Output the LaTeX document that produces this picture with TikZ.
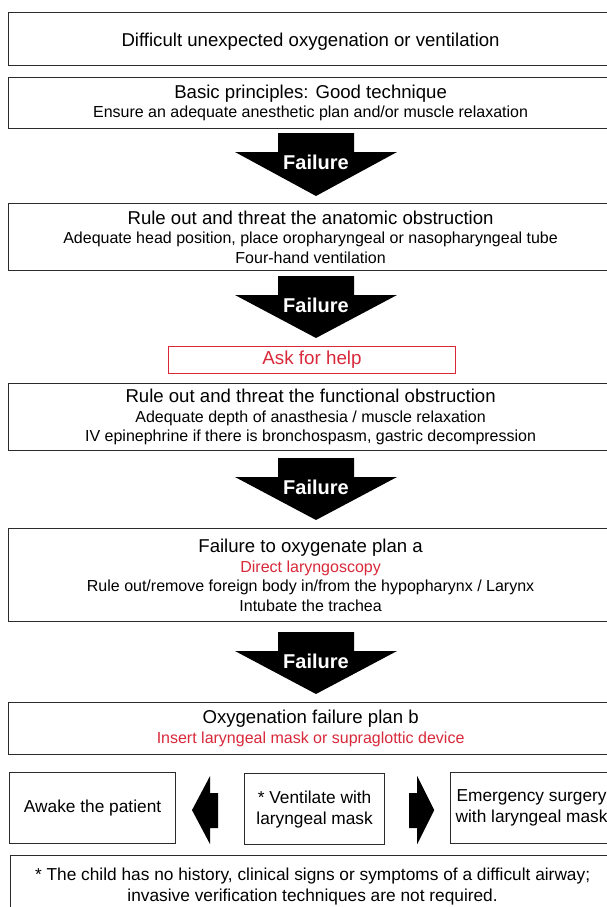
\documentclass[tikz,border=0pt]{standalone}
\usepackage{fontspec}
\setmainfont{Liberation Sans}
\definecolor{bd}{HTML}{2B2B2B}
\definecolor{rd}{HTML}{D8283A}
\newcommand\tsz{\fontsize{18.6}{20}\selectfont}
\newcommand\ssz{\fontsize{16}{19.5}\selectfont}
\newcommand\failarrow[5]{% name, cx, top, headstart, tip
  \fill[blk] (#2-38,#3) -- (#2+38,#3) -- (#2+38,#4) -- (#2+81,#4) -- (#2,#5) -- (#2-81,#4) -- (#2-38,#4) -- cycle;
  \node[failtxt] (#1) at (#2,#4+10) {Failure};}
\begin{document}
\begin{tikzpicture}[x=1pt,y=-1pt,
  box/.style={draw=bd,line width=1.2pt,rectangle,anchor=north west,inner sep=0pt,align=center,font=\ssz},
  redbox/.style={draw=rd,line width=1pt,rectangle,anchor=north west,inner sep=0pt,align=center,text=rd,font=\fontsize{18.8}{20}\selectfont},
  failtxt/.style={text=white,font=\fontsize{20}{21}\bfseries\selectfont,inner sep=0pt},
  blk/.style={fill=black,draw=none}]
\useasboundingbox (0,0) rectangle (607,907);
\clip (0,0) rectangle (607,907);

\node[box,minimum width=604pt,minimum height=53pt,text height=15.6pt,text depth=0pt] (b1) at (8,12) {\tsz Difficult unexpected oxygenation or ventilation};
\node[box,minimum width=604pt,minimum height=51pt] (b2) at (8,77) {{\tsz Basic principles: Good technique}\\Ensure an adequate anesthetic plan and/or muscle relaxation};
\failarrow{f1}{316}{133}{152}{196}
\node[box,minimum width=604pt,minimum height=67pt] (b3) at (8,203) {{\tsz Rule out and threat the anatomic obstruction}\\Adequate head position, place oropharyngeal or nasopharyngeal tube\\Four-hand ventilation};
\failarrow{f2}{316}{276}{295}{338}
\node[redbox,minimum width=287pt,minimum height=27pt] (help) at (168,346) {Ask for help};
\node[box,minimum width=604pt,minimum height=67pt] (b4) at (8,383) {{\tsz Rule out and threat the functional obstruction}\\Adequate depth of anasthesia / muscle relaxation\\IV epinephrine if there is bronchospasm, gastric decompression};
\failarrow{f3}{316}{458}{477}{520}
\node[box,minimum width=604pt,minimum height=93pt] (b5) at (8,528) {{\tsz Failure to oxygenate plan a}\\\textcolor{rd}{Direct laryngoscopy}\\Rule out/remove foreign body in/from the hypopharynx / Larynx\\Intubate the trachea};
\failarrow{f4}{316}{632}{651}{694}
\node[box,minimum width=604pt,minimum height=52pt] (b6) at (8,702) {{\tsz Oxygenation failure plan b}\\\textcolor{rd}{Insert laryngeal mask or supraglottic device}};
\node[box,minimum width=166pt,minimum height=71pt,font=\fontsize{17.3}{21}\selectfont] (awake) at (9,772) {Awake the patient};
\node[box,minimum width=140pt,minimum height=71pt,font=\fontsize{17.3}{21}\selectfont] (vent) at (244,773) {* Ventilate with\\laryngeal mask};
\node[box,minimum width=162pt,minimum height=71pt,font=\fontsize{17.3}{21}\selectfont] (emerg) at (450,772) {Emergency surgery\\with laryngeal mask};
\fill[blk] (vent.west) ++(-26,-16) -- ++(0,35) -- ++(-8,0) -- ++(0,16) -- ++(-18,-34) -- ++(18,-34) -- ++(0,17) -- cycle;
\fill[blk] (vent.east) ++(24,-16) -- ++(0,35) -- ++(8,0) -- ++(0,16) -- ++(17,-34) -- ++(-17,-34) -- ++(0,17) -- cycle;
\node[box,minimum width=604pt,minimum height=58pt,font=\fontsize{17.3}{21}\selectfont,text depth=0pt] (note) at (10,855) {* The child has no history, clinical signs or symptoms of a difficult airway;\\invasive verification techniques are not required.};
\end{tikzpicture}
\end{document}
